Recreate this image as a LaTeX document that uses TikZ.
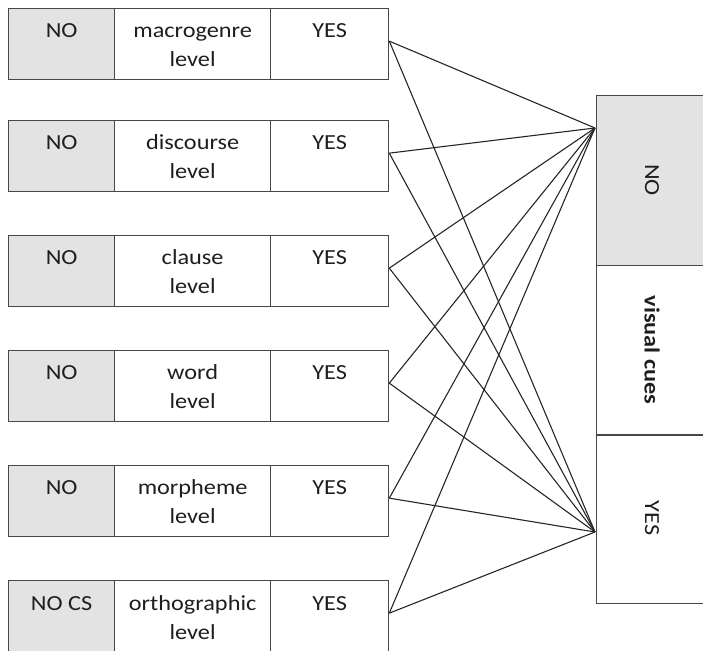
\documentclass[tikz,border=0pt]{standalone}
\usepackage{fontspec}
\setmainfont{Carlito}[FakeStretch=1.13]
\usetikzlibrary{calc}
\definecolor{cellgray}{HTML}{E3E3E3}
\definecolor{edgecol}{HTML}{474747}
\definecolor{txtcol}{HTML}{1E1E1E}
\begin{document}
\begin{tikzpicture}[x=1pt,y=1pt,
  cell/.style={draw=edgecol, line width=1.3pt, minimum height=71pt, inner sep=0pt, anchor=north west},
  vcell/.style={draw=edgecol, line width=1.3pt, minimum width=116pt, inner sep=0pt, anchor=north west},
  lbl/.style={anchor=base, align=center, inner sep=0pt, text=txtcol, font=\fontsize{21.5}{29}\selectfont},
  vlbl/.style={rotate=-90, inner sep=0pt, text=txtcol, font=\fontsize{21.5}{29}\selectfont},
  conn/.style={draw=black!85, line width=1.1pt}]
\useasboundingbox (0,0) rectangle (703,650);
% right column
\node[vcell, fill=cellgray, minimum height=170pt] (vno) at (596,650-95) {};
\node[vcell, minimum height=170pt] (vvc) at (596,650-265) {};
\node[vcell, minimum height=169pt] (vyes) at (596,650-434) {};
\node[vlbl] (tvno) at (652,650-180) {NO};
\node[vlbl] (tvvc) at (652,650-350) {\bfseries visual cues};
\node[vlbl] (tvyes) at (652,650-518) {YES};
\coordinate (eno) at (595,650-128);
\coordinate (eyes) at (595,650-532);
% rows
\foreach \i/\t/\no/\a in {1/8/NO/macrogenre, 2/120/NO/discourse, 3/235/NO/clause, 4/350/NO/word, 5/465/NO/morpheme, 6/580/NO CS/orthographic}{
  \node[cell, fill=cellgray, minimum width=106pt] (n\i) at (8,650-\t) {};
  \node[cell, minimum width=156pt] (m\i) at (114,650-\t) {};
  \node[cell, minimum width=118pt] (y\i) at (270,650-\t) {};
  \node[lbl] (tn\i) at ($(n\i.north)+(0,-30)$) {\no};
  \node[lbl] (tm\i) at ($(m\i.north)+(0,-59)$) {\a\\level};
  \node[lbl] (ty\i) at ($(y\i.north)+(0,-30)$) {YES};
  \coordinate (s\i) at ($(y\i.east)+(0,3)$);
  \draw[conn] (s\i) -- (eno);
  \draw[conn] (s\i) -- (eyes);
}
\end{tikzpicture}
\end{document}
